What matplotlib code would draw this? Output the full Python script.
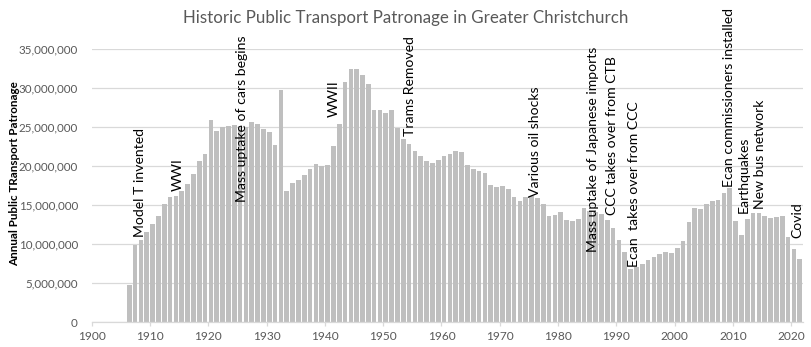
import matplotlib.pyplot as plt
import numpy as np
from matplotlib.ticker import FuncFormatter, MultipleLocator

# Annual patronage, millions of trips
years = np.arange(1906, 2022)
patronage_m = [
    4.79, 9.91, 10.56, 11.58, 12.61, 13.63, 15.17, 16.07, 16.20, 16.84,   # 1906-1915
    17.74, 19.02, 20.68, 21.58, 25.94, 24.53, 25.04, 25.17, 25.30, 25.20,  # 1916-1925
    25.04, 25.68, 25.43, 24.79, 24.40, 22.74, 29.79, 16.84, 17.86, 18.25,  # 1926-1935
    18.89, 19.66, 20.30, 20.04, 20.17, 22.60, 25.43, 30.81, 32.48, 32.48,  # 1936-1945
    31.71, 30.56, 27.22, 27.22, 26.88, 27.22, 24.91, 23.50, 22.86, 22.00,  # 1946-1955
    21.32, 20.68, 20.43, 20.81, 21.32, 21.58, 22.00, 21.84, 20.17, 19.66,  # 1956-1965
    19.40, 19.15, 17.61, 17.31, 17.48, 17.09, 16.07, 15.56, 16.07, 16.20,  # 1966-1975
    15.94, 15.17, 13.63, 13.76, 14.15, 13.16, 13.03, 13.25, 14.66, 14.30,  # 1976-1985
    14.20, 13.90, 13.12, 12.09, 10.56, 9.02, 6.84, 7.09, 7.48, 7.99,       # 1986-1995
    8.42, 8.76, 9.02, 8.89, 9.53, 10.43, 12.86, 14.66, 14.53, 15.17,       # 1996-2005
    15.56, 15.68, 16.58, 17.22, 12.99, 11.20, 13.25, 14.02, 14.02, 13.63,  # 2006-2015
    13.38, 13.50, 13.63, 10.94, 9.40, 8.12,                                # 2016-2021
]
patronage = np.array(patronage_m) * 1e6

# Event notes: (x position in years, baseline in millions, text)
events = [
    (1908.2, 10.97, "Model T invented"),
    (1914.8, 16.87, "WWI"),
    (1925.7, 15.46, "Mass uptake of cars begins"),
    (1941.6, 26.36, "WWII"),
    (1954.6, 23.88, "Trams Removed"),
    (1976.0, 16.03, "Various oil shocks"),
    (1986.0, 9.05, "Mass uptake of Japanese imports"),
    (1989.2, 13.76, "CCC takes over from CTB"),
    (1993.1, 7.13, "Ecan  takes over from CCC"),
    (2009.3, 17.38, "Ecan commissioners installed"),
    (2011.8, 14.05, "Earthquakes"),
    (2014.7, 14.49, "New bus network"),
    (2021.0, 10.77, "Covid"),
]

plt.rcParams['font.family'] = ['Lato', 'DejaVu Sans']
grey_text = '#595959'
grid_col = '#d9d9d9'

fig = plt.figure(figsize=(8.11, 3.47), dpi=100)
ax = fig.add_axes([0.1131, 0.0712, 0.8769, 0.7868])

ax.bar(years + 0.45, patronage, width=0.8, color='#bfbfbf', zorder=2)

ax.set_xlim(1900, 2022)
ax.set_ylim(0, 35e6)
ax.yaxis.set_major_locator(MultipleLocator(5e6))
ax.xaxis.set_major_locator(MultipleLocator(10))
ax.yaxis.set_major_formatter(FuncFormatter(lambda v, p: f"{int(v):,}"))

ax.grid(axis='y', color=grid_col, linewidth=0.9, zorder=0)
for s in ['top', 'right', 'left']:
    ax.spines[s].set_visible(False)
ax.spines['bottom'].set_color(grid_col)
ax.spines['bottom'].set_linewidth(0.9)

ax.tick_params(axis='y', length=0, pad=10, labelsize=8.4, labelcolor=grey_text)
ax.tick_params(axis='x', length=3, width=0.9, color=grid_col, pad=3,
               labelsize=8.6, labelcolor=grey_text)

for x, y, txt in events:
    ax.text(x, y * 1e6, txt, rotation=90, ha='center', va='bottom',
            fontsize=10.1, color='black', zorder=3)

fig.text(0.5, 0.948, "Historic Public Transport Patronage in Greater Christchurch",
         ha='center', va='center', fontsize=12.2, color=grey_text)
fig.text(0.0175, 0.50, "Annual Public TRansport Patronage", rotation=90,
         ha='center', va='center', fontsize=8.4, fontweight='bold', color='black')

fig.savefig('out.png', dpi=100)
